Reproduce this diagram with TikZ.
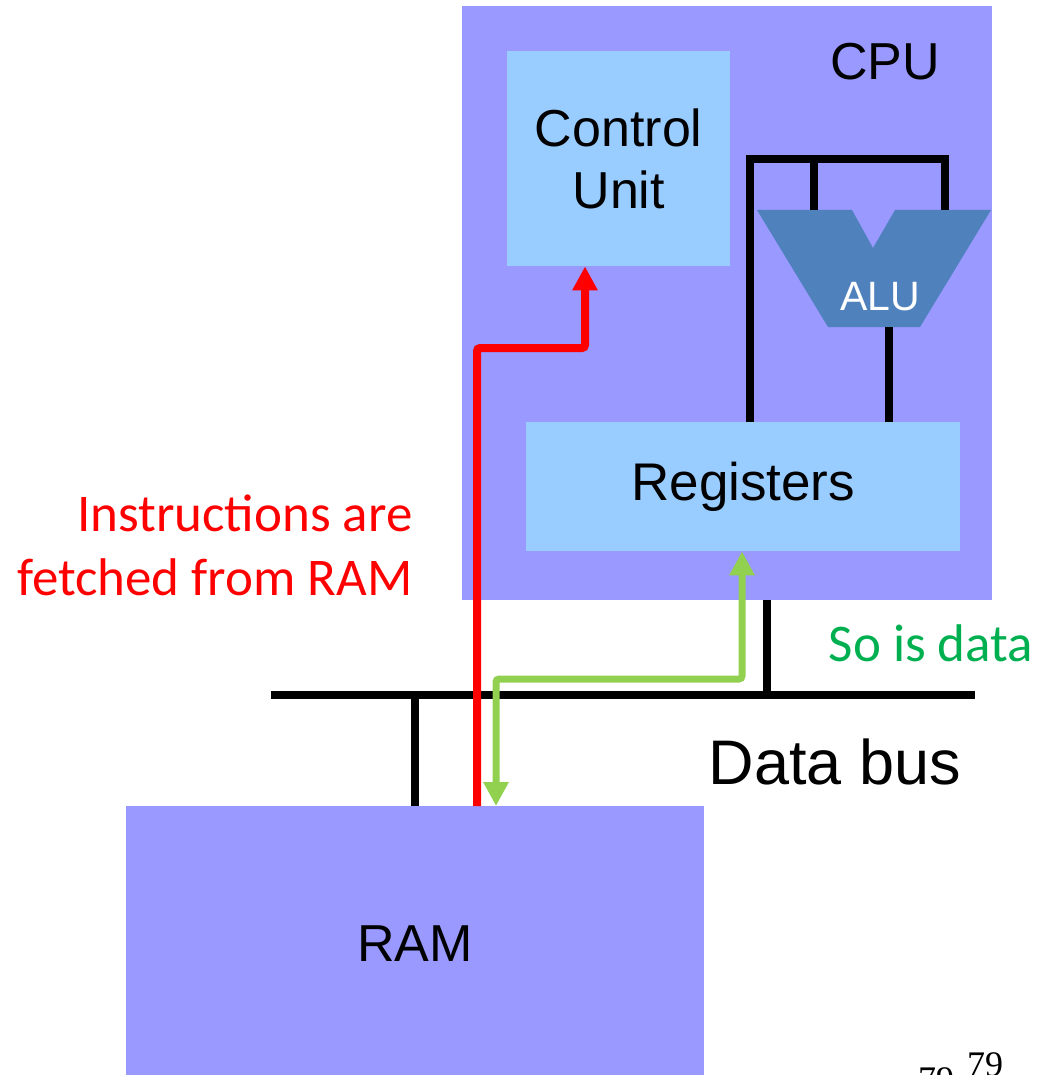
\documentclass[tikz,border=0pt]{standalone}
\usepackage{fontspec}
\setmainfont{Liberation Sans}
\newfontfamily\calibri{Carlito}
\newfontfamily\timesfont{Liberation Serif}
\usetikzlibrary{arrows.meta, positioning, calc}
\definecolor{cpublue}{HTML}{9999FF}
\definecolor{boxblue}{HTML}{99CCFF}
\definecolor{alublue}{HTML}{4F81BD}
\definecolor{fetchred}{HTML}{FF0000}
\definecolor{datagreen}{HTML}{92D050}
\definecolor{notegreen}{HTML}{00B050}

\begin{document}
\begin{tikzpicture}[x=1pt, y=-1pt,
    blk/.style={fill=#1, inner sep=0pt, anchor=north west, align=center, font=\fontsize{52}{62}\selectfont},
    wire/.style={line width=8pt},
    fetch/.style={draw=fetchred, line width=8pt, rounded corners=3pt, -{Triangle[length=24pt,width=24pt]}},
    data/.style={draw=datagreen, line width=7pt, rounded corners=3pt, {Triangle[length=24pt,width=24pt]}-{Triangle[length=24pt,width=24pt]}},
    note/.style={font=\calibri\fontsize{53}{64}\selectfont, align=right}
]
    \useasboundingbox (0,0) rectangle (1046,1075);
    \node[blk=cpublue, minimum width=530pt, minimum height=594pt] (cpu) at (462,6) {};
    \node[font=\fontsize{52}{62}\selectfont] (cpulbl) at (885,62) {CPU};
    \node[blk=boxblue, minimum width=223pt, minimum height=215pt] (cu) at (507,51) {Control\\Unit};
    \node[blk=boxblue, minimum width=434pt, minimum height=129pt, font=\fontsize{53}{62}\selectfont] (reg) at (526,422) {Registers};
    \node[blk=cpublue, minimum width=578pt, minimum height=274pt] (ram) at (126,806) {RAM};
    \fill[alublue] (757,210) -- (852,210) -- (873,248) -- (895,210) -- (991,210)
        -- (920,327) -- (828,327) -- cycle;
    \node[text=white, font=\fontsize{41}{48}\selectfont] (alu) at (880,297) {ALU};
    \coordinate (aluin1) at (814,210);
    \coordinate (aluin2) at (945,210);
    \coordinate (aluout) at (889,327);
    \coordinate (busw) at (271,695);
    \coordinate (buse) at (975,695);
    \draw[wire] ($(reg.north west)+(224,0)$) -- (750,159) -- (945,159) -- (aluin2);
    \draw[wire] (aluin1) -- (814,159);
    \draw[wire] (aluout) -- (reg.north -| aluout);
    \draw[wire] (busw) -- (buse);
    \draw[wire] (cpu.south -| 767,0) -- (buse -| 767,0);
    \draw[wire] (ram.north) -- (busw -| ram.north);
    \draw[fetch] ($(ram.north west)+(351,0)$) |- (585,348) -- ($(cu.south west)+(78,0)$);
    \draw[data] ($(reg.south west)+(216,0)$) |- (496,679) -- ($(ram.north west)+(370,0)$);
    \node[note, text=fetchred, anchor=east] (fetchlbl) at (416,545) {Instructions are\\fetched from RAM};
    \node[note, text=notegreen] (datalbl) at (931,643) {So is data};
    \node[font=\fontsize{63}{72}\selectfont] (buslbl) at (835,762) {Data bus};
    \node[font=\timesfont\fontsize{36}{40}\selectfont, anchor=base west, inner sep=0pt] (pg1) at (918,1091) {79};
    \node[font=\timesfont\fontsize{36}{40}\selectfont, anchor=base west, inner sep=0pt] (pg2) at (967,1076) {79};
\end{tikzpicture}
\end{document}
